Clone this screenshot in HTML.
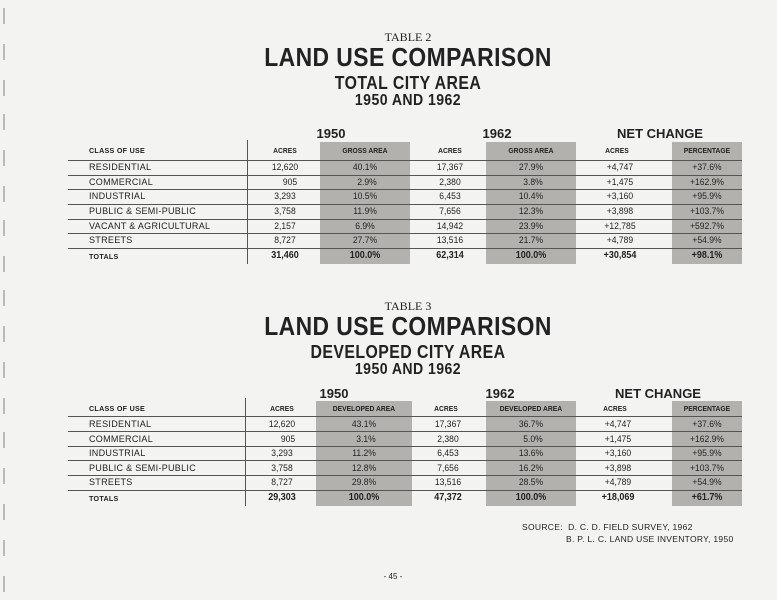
<!DOCTYPE html>
<html><head><meta charset="utf-8"><style>
body{margin:0;width:777px;height:600px;background:#f3f3f1;position:relative;overflow:hidden;font-family:"Liberation Sans",sans-serif;color:#222}
.a{position:absolute;white-space:nowrap}
.c{transform:translateX(-50%)}
.t{font-weight:bold;left:408px;transform:translateX(-50%) scaleX(0.88);letter-spacing:0.5px}
.sh{position:absolute;background:#b3b1ad}
.hl{position:absolute;height:1px;background:#555}
.vl{position:absolute;width:1px;background:#555}
.cell{position:absolute;font-size:9.5px;white-space:nowrap;transform:translateX(-50%) scaleX(0.9)}
.lab{position:absolute;font-size:9.5px;left:89px;white-space:nowrap;transform-origin:left;transform:scaleX(0.95);letter-spacing:0.3px}
.hd{font-size:7.5px;font-weight:bold}
.yr{position:absolute;font-size:13px;font-weight:bold;white-space:nowrap;transform:translateX(-50%)}
.hole{position:absolute;left:3px;width:2px;height:16px;background:#bbb}
</style></head><body>
<div class="hole" style="top:8px"></div><div class="hole" style="top:44px"></div><div class="hole" style="top:80px"></div><div class="hole" style="top:114px"></div><div class="hole" style="top:150px"></div><div class="hole" style="top:186px"></div><div class="hole" style="top:220px"></div><div class="hole" style="top:256px"></div><div class="hole" style="top:290px"></div><div class="hole" style="top:326px"></div><div class="hole" style="top:362px"></div><div class="hole" style="top:398px"></div><div class="hole" style="top:432px"></div><div class="hole" style="top:468px"></div><div class="hole" style="top:504px"></div><div class="hole" style="top:540px"></div><div class="hole" style="top:576px"></div>

<div class="a c" style="left:408px;top:30px;font-family:'Liberation Serif',serif;font-size:12px">TABLE 2</div>
<div class="a t" style="top:42px;font-size:26px">LAND USE COMPARISON</div>
<div class="a t" style="top:73px;font-size:18px">TOTAL CITY AREA</div>
<div class="a t" style="top:92px;font-size:16px">1950 AND 1962</div>

<div class="sh" style="left:320px;top:142px;width:90px;height:122px"></div>
<div class="sh" style="left:486px;top:142px;width:90px;height:122px"></div>
<div class="sh" style="left:672px;top:142px;width:70px;height:122px"></div>
<div class="yr" style="left:331px;top:126px">1950</div>
<div class="yr" style="left:497px;top:126px">1962</div>
<div class="yr" style="left:660px;top:126px">NET CHANGE</div>
<div class="vl" style="left:247px;top:140px;height:124px"></div>
<div class="hl" style="left:68px;width:674px;top:160px"></div>
<div class="hl" style="left:68px;width:674px;top:175px"></div>
<div class="hl" style="left:68px;width:674px;top:189px"></div>
<div class="hl" style="left:68px;width:674px;top:204px"></div>
<div class="hl" style="left:68px;width:674px;top:219px"></div>
<div class="hl" style="left:68px;width:674px;top:233px"></div>
<div class="hl" style="left:68px;width:674px;top:248px"></div>

<div class="lab hd" style="top:146px">CLASS OF USE</div>
<div class="cell hd" style="left:285px;top:146px">ACRES</div>
<div class="cell hd" style="left:365px;top:146px">GROSS AREA</div>
<div class="cell hd" style="left:450px;top:146px">ACRES</div>
<div class="cell hd" style="left:531px;top:146px">GROSS AREA</div>
<div class="cell hd" style="left:617px;top:146px">ACRES</div>
<div class="cell hd" style="left:707px;top:146px">PERCENTAGE</div>

<div class="lab" style="top:162px">RESIDENTIAL</div>
<div class="lab" style="top:177px">COMMERCIAL</div>
<div class="lab" style="top:191px">INDUSTRIAL</div>
<div class="lab" style="top:206px">PUBLIC &amp; SEMI-PUBLIC</div>
<div class="lab" style="top:221px">VACANT &amp; AGRICULTURAL</div>
<div class="lab" style="top:235px">STREETS</div>
<div class="lab hd" style="top:252px">TOTALS</div>

<div class="cell" style="left:285px;top:162px">12,620</div><div class="cell" style="left:365px;top:162px">40.1%</div><div class="cell" style="left:450px;top:162px">17,367</div><div class="cell" style="left:531px;top:162px">27.9%</div><div class="cell" style="left:620px;top:162px">+4,747</div><div class="cell" style="left:707px;top:162px">+37.6%</div>
<div class="cell" style="left:290px;top:177px">905</div><div class="cell" style="left:367px;top:177px">2.9%</div><div class="cell" style="left:450px;top:177px">2,380</div><div class="cell" style="left:533px;top:177px">3.8%</div><div class="cell" style="left:620px;top:177px">+1,475</div><div class="cell" style="left:707px;top:177px">+162.9%</div>
<div class="cell" style="left:285px;top:191px">3,293</div><div class="cell" style="left:365px;top:191px">10.5%</div><div class="cell" style="left:450px;top:191px">6,453</div><div class="cell" style="left:531px;top:191px">10.4%</div><div class="cell" style="left:620px;top:191px">+3,160</div><div class="cell" style="left:707px;top:191px">+95.9%</div>
<div class="cell" style="left:285px;top:206px">3,758</div><div class="cell" style="left:365px;top:206px">11.9%</div><div class="cell" style="left:450px;top:206px">7,656</div><div class="cell" style="left:531px;top:206px">12.3%</div><div class="cell" style="left:620px;top:206px">+3,898</div><div class="cell" style="left:707px;top:206px">+103.7%</div>
<div class="cell" style="left:285px;top:221px">2,157</div><div class="cell" style="left:365px;top:221px">6.9%</div><div class="cell" style="left:450px;top:221px">14,942</div><div class="cell" style="left:531px;top:221px">23.9%</div><div class="cell" style="left:620px;top:221px">+12,785</div><div class="cell" style="left:707px;top:221px">+592.7%</div>
<div class="cell" style="left:285px;top:235px">8,727</div><div class="cell" style="left:365px;top:235px">27.7%</div><div class="cell" style="left:450px;top:235px">13,516</div><div class="cell" style="left:531px;top:235px">21.7%</div><div class="cell" style="left:620px;top:235px">+4,789</div><div class="cell" style="left:707px;top:235px">+54.9%</div>
<div class="cell" style="left:285px;top:250px;font-weight:bold;font-size:10px">31,460</div><div class="cell" style="left:365px;top:250px;font-weight:bold;font-size:10px">100.0%</div><div class="cell" style="left:450px;top:250px;font-weight:bold;font-size:10px">62,314</div><div class="cell" style="left:531px;top:250px;font-weight:bold;font-size:10px">100.0%</div><div class="cell" style="left:620px;top:250px;font-weight:bold;font-size:10px">+30,854</div><div class="cell" style="left:707px;top:250px;font-weight:bold;font-size:10px">+98.1%</div>

<div class="a c" style="left:408px;top:299px;font-family:'Liberation Serif',serif;font-size:12px">TABLE 3</div>
<div class="a t" style="top:311px;font-size:26px">LAND USE COMPARISON</div>
<div class="a t" style="top:342px;font-size:18px">DEVELOPED CITY AREA</div>
<div class="a t" style="top:361px;font-size:16px">1950 AND 1962</div>

<div class="sh" style="left:316px;top:401px;width:96px;height:105px"></div>
<div class="sh" style="left:486px;top:401px;width:90px;height:105px"></div>
<div class="sh" style="left:672px;top:401px;width:70px;height:105px"></div>
<div class="yr" style="left:334px;top:386px">1950</div>
<div class="yr" style="left:500px;top:386px">1962</div>
<div class="yr" style="left:658px;top:386px">NET CHANGE</div>
<div class="vl" style="left:245px;top:398px;height:108px"></div>
<div class="hl" style="left:68px;width:674px;top:416px"></div>
<div class="hl" style="left:68px;width:674px;top:431px"></div>
<div class="hl" style="left:68px;width:674px;top:446px"></div>
<div class="hl" style="left:68px;width:674px;top:460px"></div>
<div class="hl" style="left:68px;width:674px;top:475px"></div>
<div class="hl" style="left:68px;width:674px;top:490px"></div>

<div class="lab hd" style="top:404px">CLASS OF USE</div>
<div class="cell hd" style="left:282px;top:404px">ACRES</div>
<div class="cell hd" style="left:364px;top:404px">DEVELOPED AREA</div>
<div class="cell hd" style="left:446px;top:404px">ACRES</div>
<div class="cell hd" style="left:531px;top:404px">DEVELOPED AREA</div>
<div class="cell hd" style="left:615px;top:404px">ACRES</div>
<div class="cell hd" style="left:707px;top:404px">PERCENTAGE</div>

<div class="lab" style="top:419px">RESIDENTIAL</div>
<div class="lab" style="top:434px">COMMERCIAL</div>
<div class="lab" style="top:448px">INDUSTRIAL</div>
<div class="lab" style="top:463px">PUBLIC &amp; SEMI-PUBLIC</div>
<div class="lab" style="top:477px">STREETS</div>
<div class="lab hd" style="top:494px">TOTALS</div>

<div class="cell" style="left:282px;top:419px">12,620</div><div class="cell" style="left:364px;top:419px">43.1%</div><div class="cell" style="left:448px;top:419px">17,367</div><div class="cell" style="left:531px;top:419px">36.7%</div><div class="cell" style="left:618px;top:419px">+4,747</div><div class="cell" style="left:707px;top:419px">+37.6%</div>
<div class="cell" style="left:288px;top:434px">905</div><div class="cell" style="left:366px;top:434px">3.1%</div><div class="cell" style="left:448px;top:434px">2,380</div><div class="cell" style="left:533px;top:434px">5.0%</div><div class="cell" style="left:618px;top:434px">+1,475</div><div class="cell" style="left:707px;top:434px">+162.9%</div>
<div class="cell" style="left:282px;top:448px">3,293</div><div class="cell" style="left:364px;top:448px">11.2%</div><div class="cell" style="left:448px;top:448px">6,453</div><div class="cell" style="left:531px;top:448px">13.6%</div><div class="cell" style="left:618px;top:448px">+3,160</div><div class="cell" style="left:707px;top:448px">+95.9%</div>
<div class="cell" style="left:282px;top:463px">3,758</div><div class="cell" style="left:364px;top:463px">12.8%</div><div class="cell" style="left:448px;top:463px">7,656</div><div class="cell" style="left:531px;top:463px">16.2%</div><div class="cell" style="left:618px;top:463px">+3,898</div><div class="cell" style="left:707px;top:463px">+103.7%</div>
<div class="cell" style="left:282px;top:477px">8,727</div><div class="cell" style="left:364px;top:477px">29.8%</div><div class="cell" style="left:448px;top:477px">13,516</div><div class="cell" style="left:531px;top:477px">28.5%</div><div class="cell" style="left:618px;top:477px">+4,789</div><div class="cell" style="left:707px;top:477px">+54.9%</div>
<div class="cell" style="left:282px;top:492px;font-weight:bold;font-size:10px">29,303</div><div class="cell" style="left:364px;top:492px;font-weight:bold;font-size:10px">100.0%</div><div class="cell" style="left:448px;top:492px;font-weight:bold;font-size:10px">47,372</div><div class="cell" style="left:531px;top:492px;font-weight:bold;font-size:10px">100.0%</div><div class="cell" style="left:618px;top:492px;font-weight:bold;font-size:10px">+18,069</div><div class="cell" style="left:707px;top:492px;font-weight:bold;font-size:10px">+61.7%</div>

<div class="a" style="left:522px;top:522px;font-size:8.5px;letter-spacing:0.3px">SOURCE:&nbsp; D. C. D. FIELD SURVEY, 1962</div>
<div class="a" style="left:566px;top:534px;font-size:8.5px;letter-spacing:0.3px">B. P. L. C. LAND USE INVENTORY, 1950</div>
<div class="a c" style="left:393px;top:572px;font-size:8px">- 45 -</div>
</body></html>
